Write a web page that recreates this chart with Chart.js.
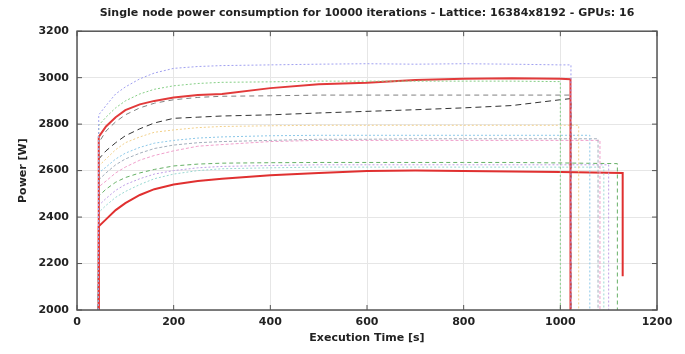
<!DOCTYPE html>
<html>
<head>
<meta charset="utf-8">
<script src="https://cdn.jsdelivr.net/npm/chart.js@4"></script>
<style>
  html, body { margin: 0; padding: 0; background: #fff; }
  #wrap { width: 685px; height: 354px; }
</style>
</head>
<body>
<div id="wrap"><canvas id="chart" width="685" height="354"></canvas></div>
<script>
// sample times [s] shared by all runs (start ramp + plateau)
const times = [44, 45, 60, 80, 100, 130, 160, 200, 250, 300, 400, 500, 600, 700, 800, 900, 1000];

// power [W] of each run at the sample times
const runTopBlue   = [2000, 2840, 2880, 2930, 2960, 2995, 3020, 3040, 3048, 3052, 3055, 3058, 3060, 3058, 3060, 3058, 3055];
const runGreenDot  = [2000, 2795, 2830, 2870, 2900, 2930, 2950, 2965, 2975, 2980, 2982, 2985, 2985, 2985, 2985, 2985, 2983];
const runRedHigh   = [2000, 2745, 2790, 2830, 2860, 2885, 2900, 2915, 2925, 2930, 2955, 2972, 2978, 2990, 2995, 2998, 2995];
const runGrayDash  = [2000, 2720, 2770, 2810, 2840, 2870, 2890, 2905, 2915, 2920, 2922, 2925, 2925, 2925, 2925, 2925, 2925];
const runBlackDash = [2000, 2650, 2685, 2720, 2750, 2780, 2805, 2825, 2830, 2835, 2840, 2848, 2855, 2862, 2870, 2880, 2905];
const runYellow    = [2000, 2620, 2650, 2690, 2720, 2745, 2765, 2775, 2785, 2790, 2793, 2795, 2795, 2795, 2795, 2795, 2795];
const runCyan      = [2000, 2590, 2615, 2650, 2675, 2700, 2718, 2730, 2740, 2745, 2750, 2752, 2752, 2752, 2752, 2752, 2752];
const runSteel     = [2000, 2560, 2590, 2625, 2650, 2675, 2695, 2710, 2720, 2725, 2730, 2735, 2735, 2737, 2737, 2737, 2737];
const runMagenta   = [2000, 2530, 2555, 2590, 2615, 2645, 2665, 2685, 2705, 2712, 2725, 2730, 2730, 2730, 2730, 2730, 2730];
const runGreenDash = [2000, 2490, 2520, 2550, 2570, 2590, 2605, 2620, 2628, 2632, 2634, 2635, 2635, 2635, 2635, 2635, 2633];
const runPurple    = [2000, 2450, 2480, 2515, 2540, 2565, 2585, 2600, 2612, 2618, 2622, 2625, 2625, 2625, 2625, 2625, 2625];
const runTeal      = [2000, 2420, 2450, 2485, 2510, 2540, 2565, 2585, 2600, 2608, 2612, 2615, 2615, 2615, 2615, 2615, 2615];
const runRedLow    = [2000, 2360, 2390, 2430, 2460, 2495, 2520, 2540, 2555, 2565, 2580, 2590, 2598, 2600, 2598, 2596, 2594];

const runs = [runTopBlue, runGreenDot, runRedHigh, runGrayDash, runBlackDash, runYellow, runCyan,
              runSteel, runMagenta, runGreenDash, runPurple, runTeal, runRedLow];
// end of each run [s], last power before the end, power it falls to
const endTimes  = [1022, 1000, 1021, 1021, 1022, 1038, 1061, 1078, 1082, 1118, 1100, 1090, 1129];
const endPower  = [3055, 2983, 2993, 2925, 2910, 2795, 2752, 2737, 2730, 2630, 2625, 2615, 2590];
const dropPower = [2000, 2000, 2000, 2000, 2000, 2000, 2000, 2000, 2000, 2000, 2000, 2000, 2145];

const xTicks = [0, 200, 400, 600, 800, 1000, 1200];
const yTicks = [2000, 2200, 2400, 2600, 2800, 3000, 3200];

// line look per run
const styles = [
  { color: '#a0a0f0', width: 1, dash: [2, 2] },
  { color: '#86cf86', width: 1, dash: [2, 2] },
  { color: '#e23a3a', width: 2, dash: [] },
  { color: '#808080', width: 1, dash: [5, 4] },
  { color: '#333333', width: 1, dash: [6, 4] },
  { color: '#f2d08a', width: 1, dash: [2, 2] },
  { color: '#8cc8e8', width: 1, dash: [2, 2] },
  { color: '#a4afbc', width: 1, dash: [3, 2] },
  { color: '#f0a0cc', width: 1, dash: [3, 2] },
  { color: '#66b066', width: 1, dash: [4, 3] },
  { color: '#bf9ee6', width: 1, dash: [2, 2] },
  { color: '#9ad8d2', width: 1, dash: [2, 2] },
  { color: '#e03030', width: 2, dash: [] }
];

const datasets = runs.map(function (vals, i) {
  const pts = times.filter(t => t <= endTimes[i]).map((t, j) => ({ x: t, y: vals[j] }));
  pts.push({ x: endTimes[i], y: endPower[i] });
  pts.push({ x: endTimes[i], y: dropPower[i] });
  return {
    label: 'run ' + (i + 1),
    data: pts,
    borderColor: styles[i].color,
    borderWidth: styles[i].width,
    borderDash: styles[i].dash,
    pointRadius: 0,
    fill: false,
    tension: 0
  };
});

// box around the plot with inward ticks on all sides
const boxPlugin = {
  id: 'box',
  afterDatasetsDraw(c) {
    const { ctx, chartArea: a, scales } = c;
    ctx.save();
    ctx.strokeStyle = '#555';
    ctx.lineWidth = 1.5;
    ctx.strokeRect(a.left, a.top, a.right - a.left, a.bottom - a.top);
    ctx.lineWidth = 1;
    ctx.beginPath();
    xTicks.forEach(v => {
      const px = scales.x.getPixelForValue(v);
      ctx.moveTo(px, a.bottom); ctx.lineTo(px, a.bottom - 5);
      ctx.moveTo(px, a.top); ctx.lineTo(px, a.top + 5);
    });
    yTicks.forEach(v => {
      const py = scales.y.getPixelForValue(v);
      ctx.moveTo(a.left, py); ctx.lineTo(a.left + 5, py);
      ctx.moveTo(a.right, py); ctx.lineTo(a.right - 5, py);
    });
    ctx.stroke();
    ctx.restore();
  }
};

const tickFont = { family: 'DejaVu Sans', size: 11, weight: 'bold' };

new Chart(document.getElementById('chart').getContext('2d'), {
  type: 'line',
  data: { datasets: datasets },
  options: {
    responsive: false,
    animation: false,
    layout: { padding: { top: 2, right: 28, left: 0, bottom: 0 } },
    plugins: {
      legend: { display: false },
      tooltip: { enabled: false },
      title: {
        display: true,
        fullSize: false,
        text: 'Single node power consumption for 10000 iterations - Lattice: 16384x8192 - GPUs: 16',
        color: '#222',
        font: { family: 'DejaVu Sans', size: 11, weight: 'bold' },
        padding: { top: 5, bottom: 11 }
      }
    },
    scales: {
      x: {
        type: 'linear',
        min: 0, max: 1200,
        afterBuildTicks: s => { s.ticks = xTicks.map(v => ({ value: v })); },
        afterFit: s => { s.height = 44; },
        grid: { color: '#e6e6e6', drawTicks: false },
        border: { display: false },
        ticks: { color: '#222', font: tickFont, padding: 6, maxRotation: 0, callback: v => String(v) },
        title: {
          display: true, text: 'Execution Time [s]', color: '#222',
          font: tickFont, padding: { top: 0, bottom: 9 }
        }
      },
      y: {
        min: 2000, max: 3200,
        afterBuildTicks: s => { s.ticks = yTicks.map(v => ({ value: v })); },
        afterFit: s => { s.width = 77; },
        grid: { color: '#e6e6e6', drawTicks: false },
        border: { display: false },
        ticks: { color: '#222', font: tickFont, padding: 8, callback: v => String(v) },
        title: {
          display: true, text: 'Power [W]', color: '#222',
          font: tickFont, padding: { top: 17, bottom: 0 }
        }
      }
    }
  },
  plugins: [boxPlugin]
});
</script>
</body>
</html>
